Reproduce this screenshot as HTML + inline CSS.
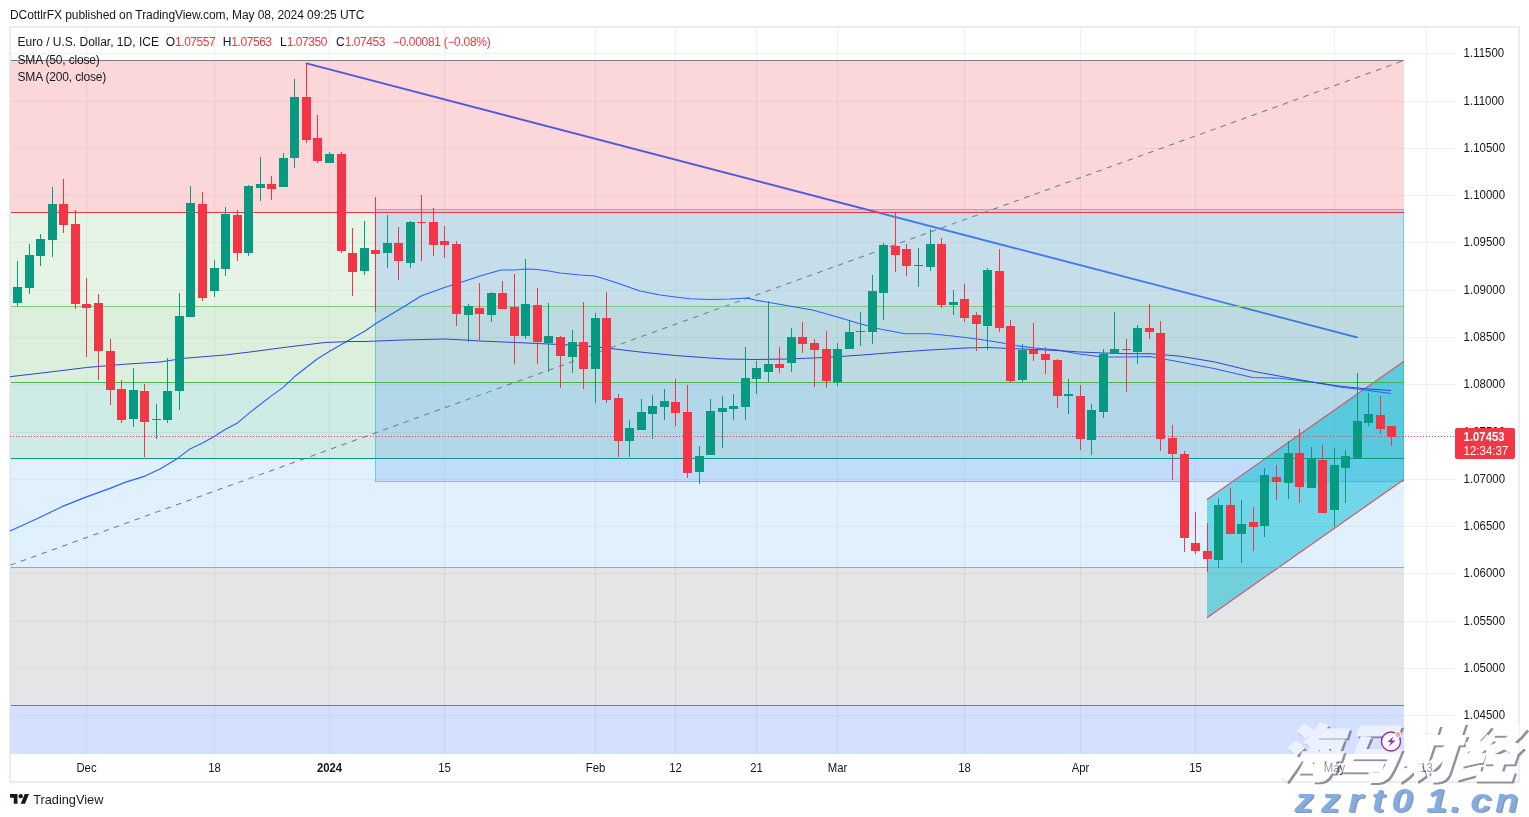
<!DOCTYPE html>
<html><head><meta charset="utf-8"><title>EURUSD chart</title>
<style>
html,body{margin:0;padding:0;background:#fff;}
body{width:1529px;height:817px;position:relative;overflow:hidden;font-family:"Liberation Sans","Noto Sans CJK SC",sans-serif;color:#131722;}
#frame{position:absolute;left:9px;top:26px;width:1507px;height:753px;border:2px solid #ebedf3;}
.t{position:absolute;white-space:nowrap;font-size:12px;line-height:14px;}
.red{color:#f23645;letter-spacing:-0.45px}
</style></head><body>
<div id="frame"></div>
<svg id="chart" width="1529" height="817" viewBox="0 0 1529 817" style="position:absolute;left:0;top:0">
<g stroke="#eff0f3" stroke-width="1" shape-rendering="crispEdges">
<line x1="10.5" x2="1455" y1="53.5" y2="53.5"/>
<line x1="10.5" x2="1455" y1="101.5" y2="101.5"/>
<line x1="10.5" x2="1455" y1="148.5" y2="148.5"/>
<line x1="10.5" x2="1455" y1="195.5" y2="195.5"/>
<line x1="10.5" x2="1455" y1="242.5" y2="242.5"/>
<line x1="10.5" x2="1455" y1="290.5" y2="290.5"/>
<line x1="10.5" x2="1455" y1="337.5" y2="337.5"/>
<line x1="10.5" x2="1455" y1="384.5" y2="384.5"/>
<line x1="10.5" x2="1455" y1="432.5" y2="432.5"/>
<line x1="10.5" x2="1455" y1="479.5" y2="479.5"/>
<line x1="10.5" x2="1455" y1="526.5" y2="526.5"/>
<line x1="10.5" x2="1455" y1="573.5" y2="573.5"/>
<line x1="10.5" x2="1455" y1="621.5" y2="621.5"/>
<line x1="10.5" x2="1455" y1="668.5" y2="668.5"/>
<line x1="10.5" x2="1455" y1="715.5" y2="715.5"/>
<line x1="86.5" x2="86.5" y1="28" y2="754"/>
<line x1="214.5" x2="214.5" y1="28" y2="754"/>
<line x1="329.5" x2="329.5" y1="28" y2="754"/>
<line x1="444.5" x2="444.5" y1="28" y2="754"/>
<line x1="595.5" x2="595.5" y1="28" y2="754"/>
<line x1="675.5" x2="675.5" y1="28" y2="754"/>
<line x1="756.5" x2="756.5" y1="28" y2="754"/>
<line x1="837.5" x2="837.5" y1="28" y2="754"/>
<line x1="964.5" x2="964.5" y1="28" y2="754"/>
<line x1="1080.5" x2="1080.5" y1="28" y2="754"/>
<line x1="1195.5" x2="1195.5" y1="28" y2="754"/>
<line x1="1334.5" x2="1334.5" y1="28" y2="754"/>
<line x1="1426.5" x2="1426.5" y1="28" y2="754"/>
</g>
<line x1="306.5" y1="63.4" x2="1357" y2="337.3" stroke="#2962ff" stroke-width="1.9" stroke-linecap="round"/>
<rect x="10.5" y="60.5" width="1393.5" height="152.0" fill="rgba(242,54,69,0.2)"/>
<rect x="10.5" y="212.5" width="1393.5" height="94.1" fill="rgba(129,199,132,0.2)"/>
<rect x="10.5" y="306.6" width="1393.5" height="75.9" fill="rgba(76,175,80,0.2)"/>
<rect x="10.5" y="382.5" width="1393.5" height="75.9" fill="rgba(8,153,129,0.2)"/>
<rect x="10.5" y="458.4" width="1393.5" height="109.1" fill="rgba(100,181,246,0.2)"/>
<rect x="10.5" y="567.5" width="1393.5" height="137.7" fill="rgba(120,123,134,0.2)"/>
<rect x="10.5" y="705.2" width="1393.5" height="48.8" fill="rgba(41,98,255,0.2)"/>
<line x1="10.5" y1="565" x2="1404" y2="60.5" stroke="#787b86" stroke-width="1.05" stroke-dasharray="5.5 5.5"/>
<rect x="375" y="209" width="1029" height="273" fill="rgba(80,145,245,0.22)"/>
<rect x="375.5" y="209.5" width="1028" height="272" fill="none" stroke="rgba(0,180,168,0.42)" stroke-width="1" shape-rendering="crispEdges"/>
<polygon points="1207,499.5 1404,361.2 1404,479.5 1207,617.7" fill="rgba(0,188,212,0.5)"/>
<line x1="1207" y1="499.5" x2="1404" y2="361.2" stroke="#d0596b" stroke-width="1.2"/>
<line x1="1207" y1="617.7" x2="1404" y2="479.5" stroke="#d0596b" stroke-width="1.2"/>
<line x1="10.5" x2="1404" y1="60.5" y2="60.5" stroke="#787b86" stroke-width="1" shape-rendering="crispEdges"/>
<line x1="10.5" x2="1404" y1="212.5" y2="212.5" stroke="#f23645" stroke-width="1" shape-rendering="crispEdges"/>
<line x1="10.5" x2="1404" y1="306.5" y2="306.5" stroke="#81c784" stroke-width="1" shape-rendering="crispEdges"/>
<line x1="10.5" x2="1404" y1="382.5" y2="382.5" stroke="#4caf50" stroke-width="1" shape-rendering="crispEdges"/>
<line x1="10.5" x2="1404" y1="458.5" y2="458.5" stroke="#089981" stroke-width="1" shape-rendering="crispEdges"/>
<line x1="10.5" x2="1404" y1="567.5" y2="567.5" stroke="#64b5f6" stroke-width="1" shape-rendering="crispEdges"/>
<line x1="10.5" x2="1404" y1="705.5" y2="705.5" stroke="#787b86" stroke-width="1" shape-rendering="crispEdges"/>
<line x1="10" x2="1455" y1="436.5" y2="436.5" stroke="#f23645" stroke-width="1" stroke-dasharray="1 2" shape-rendering="crispEdges"/>
<polyline points="10.0,531.0 37.5,518.6 62.5,506.4 86.5,496.9 110.0,488.4 125.0,482.4 145.0,476.1 160.0,468.9 177.5,458.4 190.0,448.9 202.5,442.9 215.0,435.9 225.0,429.4 237.5,422.9 250.0,412.4 270.0,396.9 283.8,386.9 295.0,376.2 317.5,358.7 330.0,351.0 347.5,341.0 365.0,331.0 375.5,323.7 390.0,315.0 405.0,306.0 421.0,296.0 444.5,287.5 465.0,281.0 480.0,276.0 501.0,270.0 515.0,270.0 525.5,269.0 537.5,269.5 549.0,271.0 560.0,273.0 580.0,275.0 595.0,276.0 606.5,279.5 620.0,284.0 640.0,291.0 660.0,295.0 675.5,297.0 690.0,298.7 710.0,299.5 730.0,299.0 747.0,298.0 755.0,300.0 775.0,303.5 812.5,310.0 837.5,317.0 860.0,323.7 880.0,329.0 905.0,333.7 930.0,333.7 952.5,336.0 977.5,339.0 1000.0,342.5 1015.0,345.5 1035.0,348.0 1057.5,350.0 1077.5,353.7 1102.5,357.0 1126.5,357.0 1150.0,356.5 1180.0,362.0 1215.0,368.7 1252.5,377.5 1280.0,378.2 1315.0,382.5 1340.0,387.0 1365.0,390.0 1391.0,393.5" fill="none" stroke="#2962ff" stroke-width="1.15" stroke-linejoin="round"/>
<polyline points="10.0,376.7 50.0,372.0 86.5,367.5 125.0,364.2 160.0,362.0 185.0,358.2 225.0,355.0 250.0,352.0 287.5,347.0 325.0,342.5 350.0,341.5 365.0,341.5 402.5,340.0 444.5,339.0 465.0,340.0 480.0,341.0 515.0,342.5 549.0,344.0 580.0,345.5 606.5,348.0 640.0,352.0 675.5,355.5 710.0,358.0 725.0,359.0 756.5,359.5 787.5,359.0 825.0,357.5 862.5,355.0 900.0,352.0 930.0,350.0 965.0,348.0 987.5,347.5 1010.0,348.5 1035.0,349.5 1057.5,350.5 1080.0,352.0 1103.5,353.0 1126.5,353.7 1150.0,353.7 1180.0,356.2 1215.0,362.0 1252.5,371.2 1280.0,376.2 1315.0,382.5 1340.0,386.2 1365.0,388.7 1391.0,390.5" fill="none" stroke="#3340d6" stroke-width="1" stroke-linejoin="round"/>
<g shape-rendering="crispEdges">
<rect x="17.0" y="261.0" width="1" height="45.0" fill="#089981"/>
<rect x="13.0" y="287.0" width="9" height="16.0" fill="#089981"/>
<rect x="29.0" y="244.0" width="1" height="50.0" fill="#089981"/>
<rect x="25.0" y="255.0" width="9" height="33.0" fill="#089981"/>
<rect x="40.0" y="234.0" width="1" height="32.0" fill="#089981"/>
<rect x="36.0" y="239.0" width="9" height="17.0" fill="#089981"/>
<rect x="52.0" y="187.0" width="1" height="70.0" fill="#089981"/>
<rect x="48.0" y="204.0" width="9" height="36.0" fill="#089981"/>
<rect x="63.0" y="179.0" width="1" height="54.0" fill="#f23645"/>
<rect x="59.0" y="204.0" width="9" height="21.0" fill="#f23645"/>
<rect x="75.0" y="210.0" width="1" height="99.0" fill="#f23645"/>
<rect x="71.0" y="224.0" width="9" height="80.0" fill="#f23645"/>
<rect x="86.0" y="278.0" width="1" height="79.0" fill="#f23645"/>
<rect x="82.0" y="304.0" width="9" height="4.0" fill="#f23645"/>
<rect x="98.0" y="294.0" width="1" height="86.0" fill="#f23645"/>
<rect x="94.0" y="303.0" width="9" height="48.0" fill="#f23645"/>
<rect x="110.0" y="339.0" width="1" height="66.0" fill="#f23645"/>
<rect x="106.0" y="351.0" width="9" height="39.0" fill="#f23645"/>
<rect x="121.0" y="380.0" width="1" height="43.0" fill="#f23645"/>
<rect x="117.0" y="389.0" width="9" height="30.5" fill="#f23645"/>
<rect x="133.0" y="368.0" width="1" height="59.0" fill="#089981"/>
<rect x="129.0" y="390.0" width="9" height="29.0" fill="#089981"/>
<rect x="144.0" y="384.0" width="1" height="73.0" fill="#f23645"/>
<rect x="140.0" y="391.0" width="9" height="31.0" fill="#f23645"/>
<rect x="156.0" y="404.0" width="1" height="35.0" fill="#089981"/>
<rect x="152.0" y="419.0" width="9" height="1.0" fill="#089981"/>
<rect x="167.0" y="358.0" width="1" height="65.0" fill="#089981"/>
<rect x="163.0" y="391.0" width="9" height="29.0" fill="#089981"/>
<rect x="179.0" y="293.0" width="1" height="117.0" fill="#089981"/>
<rect x="175.0" y="316.0" width="9" height="75.0" fill="#089981"/>
<rect x="190.0" y="186.0" width="1" height="131.0" fill="#089981"/>
<rect x="186.0" y="203.0" width="9" height="114.0" fill="#089981"/>
<rect x="202.0" y="192.0" width="1" height="109.0" fill="#f23645"/>
<rect x="198.0" y="204.0" width="9" height="94.0" fill="#f23645"/>
<rect x="214.0" y="260.0" width="1" height="37.0" fill="#089981"/>
<rect x="210.0" y="268.0" width="9" height="23.0" fill="#089981"/>
<rect x="225.0" y="207.0" width="1" height="69.0" fill="#089981"/>
<rect x="221.0" y="214.0" width="9" height="55.0" fill="#089981"/>
<rect x="237.0" y="210.0" width="1" height="51.0" fill="#f23645"/>
<rect x="233.0" y="215.0" width="9" height="38.0" fill="#f23645"/>
<rect x="248.0" y="185.0" width="1" height="71.0" fill="#089981"/>
<rect x="244.0" y="185.5" width="9" height="67.5" fill="#089981"/>
<rect x="260.0" y="157.0" width="1" height="44.0" fill="#089981"/>
<rect x="256.0" y="184.0" width="9" height="4.0" fill="#089981"/>
<rect x="271.0" y="176.0" width="1" height="24.0" fill="#f23645"/>
<rect x="267.0" y="184.0" width="9" height="5.0" fill="#f23645"/>
<rect x="283.0" y="153.0" width="1" height="34.0" fill="#089981"/>
<rect x="279.0" y="158.0" width="9" height="29.0" fill="#089981"/>
<rect x="294.0" y="79.0" width="1" height="89.0" fill="#089981"/>
<rect x="290.0" y="97.0" width="9" height="61.0" fill="#089981"/>
<rect x="306.0" y="63.0" width="1" height="80.0" fill="#f23645"/>
<rect x="302.0" y="97.0" width="9" height="43.0" fill="#f23645"/>
<rect x="317.0" y="115.0" width="1" height="48.0" fill="#f23645"/>
<rect x="313.0" y="138.0" width="9" height="23.0" fill="#f23645"/>
<rect x="329.0" y="152.0" width="1" height="11.0" fill="#089981"/>
<rect x="325.0" y="154.0" width="9" height="9.0" fill="#089981"/>
<rect x="341.0" y="152.0" width="1" height="101.0" fill="#f23645"/>
<rect x="337.0" y="154.0" width="9" height="97.0" fill="#f23645"/>
<rect x="352.0" y="228.0" width="1" height="68.0" fill="#f23645"/>
<rect x="348.0" y="253.0" width="9" height="19.0" fill="#f23645"/>
<rect x="364.0" y="221.0" width="1" height="54.0" fill="#089981"/>
<rect x="360.0" y="248.0" width="9" height="23.0" fill="#089981"/>
<rect x="375.0" y="197.0" width="1" height="115.0" fill="#f23645"/>
<rect x="371.0" y="249.5" width="9" height="4.5" fill="#f23645"/>
<rect x="387.0" y="215.0" width="1" height="53.0" fill="#089981"/>
<rect x="383.0" y="243.0" width="9" height="10.0" fill="#089981"/>
<rect x="398.0" y="227.0" width="1" height="53.0" fill="#f23645"/>
<rect x="394.0" y="243.0" width="9" height="18.0" fill="#f23645"/>
<rect x="410.0" y="221.0" width="1" height="47.0" fill="#089981"/>
<rect x="406.0" y="222.0" width="9" height="41.0" fill="#089981"/>
<rect x="421.0" y="195.0" width="1" height="66.0" fill="#f23645"/>
<rect x="417.0" y="222.0" width="9" height="1.0" fill="#f23645"/>
<rect x="433.0" y="208.0" width="1" height="48.0" fill="#f23645"/>
<rect x="429.0" y="222.0" width="9" height="23.0" fill="#f23645"/>
<rect x="444.0" y="226.0" width="1" height="32.0" fill="#f23645"/>
<rect x="440.0" y="241.0" width="9" height="4.0" fill="#f23645"/>
<rect x="456.0" y="241.0" width="1" height="85.0" fill="#f23645"/>
<rect x="452.0" y="244.0" width="9" height="70.0" fill="#f23645"/>
<rect x="468.0" y="304.0" width="1" height="38.0" fill="#089981"/>
<rect x="464.0" y="306.0" width="9" height="9.0" fill="#089981"/>
<rect x="479.0" y="283.0" width="1" height="57.0" fill="#f23645"/>
<rect x="475.0" y="308.0" width="9" height="6.0" fill="#f23645"/>
<rect x="491.0" y="292.0" width="1" height="30.0" fill="#089981"/>
<rect x="487.0" y="293.0" width="9" height="22.0" fill="#089981"/>
<rect x="502.0" y="281.0" width="1" height="28.0" fill="#f23645"/>
<rect x="498.0" y="293.0" width="9" height="16.0" fill="#f23645"/>
<rect x="514.0" y="274.0" width="1" height="90.0" fill="#f23645"/>
<rect x="510.0" y="307.0" width="9" height="29.0" fill="#f23645"/>
<rect x="525.0" y="259.0" width="1" height="80.0" fill="#089981"/>
<rect x="521.0" y="304.0" width="9" height="32.0" fill="#089981"/>
<rect x="537.0" y="288.0" width="1" height="76.0" fill="#f23645"/>
<rect x="533.0" y="305.0" width="9" height="37.0" fill="#f23645"/>
<rect x="548.0" y="303.0" width="1" height="69.0" fill="#089981"/>
<rect x="544.0" y="336.0" width="9" height="7.0" fill="#089981"/>
<rect x="560.0" y="336.0" width="1" height="52.0" fill="#f23645"/>
<rect x="556.0" y="337.0" width="9" height="19.0" fill="#f23645"/>
<rect x="572.0" y="330.0" width="1" height="43.0" fill="#089981"/>
<rect x="568.0" y="342.0" width="9" height="15.0" fill="#089981"/>
<rect x="583.0" y="302.0" width="1" height="87.0" fill="#f23645"/>
<rect x="579.0" y="342.0" width="9" height="27.0" fill="#f23645"/>
<rect x="595.0" y="313.0" width="1" height="90.0" fill="#089981"/>
<rect x="591.0" y="318.0" width="9" height="51.0" fill="#089981"/>
<rect x="606.0" y="292.0" width="1" height="111.0" fill="#f23645"/>
<rect x="602.0" y="318.0" width="9" height="82.0" fill="#f23645"/>
<rect x="618.0" y="394.0" width="1" height="63.0" fill="#f23645"/>
<rect x="614.0" y="398.0" width="9" height="43.0" fill="#f23645"/>
<rect x="629.0" y="420.0" width="1" height="37.0" fill="#089981"/>
<rect x="625.0" y="428.0" width="9" height="13.0" fill="#089981"/>
<rect x="641.0" y="399.0" width="1" height="31.0" fill="#089981"/>
<rect x="637.0" y="412.0" width="9" height="18.0" fill="#089981"/>
<rect x="652.0" y="395.0" width="1" height="44.0" fill="#089981"/>
<rect x="648.0" y="406.0" width="9" height="8.0" fill="#089981"/>
<rect x="664.0" y="389.0" width="1" height="31.0" fill="#089981"/>
<rect x="660.0" y="401.0" width="9" height="6.0" fill="#089981"/>
<rect x="675.0" y="379.0" width="1" height="47.0" fill="#f23645"/>
<rect x="671.0" y="402.0" width="9" height="11.0" fill="#f23645"/>
<rect x="687.0" y="385.0" width="1" height="93.0" fill="#f23645"/>
<rect x="683.0" y="412.0" width="9" height="61.0" fill="#f23645"/>
<rect x="699.0" y="446.0" width="1" height="38.0" fill="#089981"/>
<rect x="695.0" y="456.0" width="9" height="16.0" fill="#089981"/>
<rect x="710.0" y="399.0" width="1" height="56.0" fill="#089981"/>
<rect x="706.0" y="411.0" width="9" height="44.0" fill="#089981"/>
<rect x="722.0" y="396.0" width="1" height="52.0" fill="#089981"/>
<rect x="718.0" y="408.0" width="9" height="4.0" fill="#089981"/>
<rect x="733.0" y="394.0" width="1" height="26.0" fill="#089981"/>
<rect x="729.0" y="406.0" width="9" height="3.0" fill="#089981"/>
<rect x="745.0" y="347.0" width="1" height="73.0" fill="#089981"/>
<rect x="741.0" y="378.0" width="9" height="29.0" fill="#089981"/>
<rect x="756.0" y="361.0" width="1" height="33.0" fill="#089981"/>
<rect x="752.0" y="368.0" width="9" height="11.0" fill="#089981"/>
<rect x="768.0" y="301.0" width="1" height="81.0" fill="#089981"/>
<rect x="764.0" y="364.0" width="9" height="8.0" fill="#089981"/>
<rect x="779.0" y="347.0" width="1" height="26.0" fill="#f23645"/>
<rect x="775.0" y="364.0" width="9" height="4.0" fill="#f23645"/>
<rect x="791.0" y="328.0" width="1" height="44.0" fill="#089981"/>
<rect x="787.0" y="337.0" width="9" height="26.0" fill="#089981"/>
<rect x="802.0" y="322.0" width="1" height="31.0" fill="#f23645"/>
<rect x="798.0" y="337.0" width="9" height="7.0" fill="#f23645"/>
<rect x="814.0" y="339.0" width="1" height="48.0" fill="#f23645"/>
<rect x="810.0" y="343.0" width="9" height="7.0" fill="#f23645"/>
<rect x="826.0" y="331.0" width="1" height="57.0" fill="#f23645"/>
<rect x="822.0" y="349.0" width="9" height="32.0" fill="#f23645"/>
<rect x="837.0" y="343.0" width="1" height="43.0" fill="#089981"/>
<rect x="833.0" y="349.0" width="9" height="33.0" fill="#089981"/>
<rect x="849.0" y="321.0" width="1" height="28.0" fill="#089981"/>
<rect x="845.0" y="332.0" width="9" height="17.0" fill="#089981"/>
<rect x="860.0" y="312.0" width="1" height="34.0" fill="#089981"/>
<rect x="856.0" y="331.0" width="9" height="1.0" fill="#089981"/>
<rect x="872.0" y="275.0" width="1" height="69.0" fill="#089981"/>
<rect x="868.0" y="291.0" width="9" height="41.0" fill="#089981"/>
<rect x="883.0" y="243.0" width="1" height="77.0" fill="#089981"/>
<rect x="879.0" y="245.0" width="9" height="48.0" fill="#089981"/>
<rect x="895.0" y="212.0" width="1" height="60.0" fill="#f23645"/>
<rect x="891.0" y="246.0" width="9" height="9.0" fill="#f23645"/>
<rect x="906.0" y="244.0" width="1" height="32.0" fill="#f23645"/>
<rect x="902.0" y="249.0" width="9" height="17.0" fill="#f23645"/>
<rect x="918.0" y="248.0" width="1" height="39.0" fill="#089981"/>
<rect x="914.0" y="265.0" width="9" height="1.0" fill="#089981"/>
<rect x="930.0" y="229.0" width="1" height="42.0" fill="#089981"/>
<rect x="926.0" y="244.0" width="9" height="23.0" fill="#089981"/>
<rect x="941.0" y="238.0" width="1" height="70.0" fill="#f23645"/>
<rect x="937.0" y="244.0" width="9" height="61.0" fill="#f23645"/>
<rect x="953.0" y="290.0" width="1" height="25.0" fill="#089981"/>
<rect x="949.0" y="302.0" width="9" height="3.0" fill="#089981"/>
<rect x="964.0" y="284.0" width="1" height="38.0" fill="#f23645"/>
<rect x="960.0" y="299.0" width="9" height="19.0" fill="#f23645"/>
<rect x="976.0" y="312.0" width="1" height="39.0" fill="#f23645"/>
<rect x="972.0" y="315.0" width="9" height="9.0" fill="#f23645"/>
<rect x="987.0" y="268.0" width="1" height="82.0" fill="#089981"/>
<rect x="983.0" y="270.0" width="9" height="56.0" fill="#089981"/>
<rect x="999.0" y="249.0" width="1" height="83.0" fill="#f23645"/>
<rect x="995.0" y="271.0" width="9" height="57.0" fill="#f23645"/>
<rect x="1010.0" y="320.0" width="1" height="63.0" fill="#f23645"/>
<rect x="1006.0" y="326.0" width="9" height="55.0" fill="#f23645"/>
<rect x="1022.0" y="344.0" width="1" height="38.0" fill="#089981"/>
<rect x="1018.0" y="350.0" width="9" height="30.0" fill="#089981"/>
<rect x="1033.0" y="323.0" width="1" height="38.0" fill="#f23645"/>
<rect x="1029.0" y="350.0" width="9" height="4.0" fill="#f23645"/>
<rect x="1045.0" y="347.0" width="1" height="27.0" fill="#f23645"/>
<rect x="1041.0" y="354.0" width="9" height="6.0" fill="#f23645"/>
<rect x="1057.0" y="359.0" width="1" height="49.0" fill="#f23645"/>
<rect x="1053.0" y="360.0" width="9" height="36.0" fill="#f23645"/>
<rect x="1068.0" y="379.0" width="1" height="35.0" fill="#089981"/>
<rect x="1064.0" y="394.0" width="9" height="1.5" fill="#089981"/>
<rect x="1080.0" y="385.0" width="1" height="65.0" fill="#f23645"/>
<rect x="1076.0" y="396.0" width="9" height="43.0" fill="#f23645"/>
<rect x="1091.0" y="404.0" width="1" height="51.0" fill="#089981"/>
<rect x="1087.0" y="410.0" width="9" height="30.0" fill="#089981"/>
<rect x="1103.0" y="349.0" width="1" height="69.0" fill="#089981"/>
<rect x="1099.0" y="354.0" width="9" height="58.0" fill="#089981"/>
<rect x="1114.0" y="312.0" width="1" height="42.0" fill="#089981"/>
<rect x="1110.0" y="349.0" width="9" height="5.0" fill="#089981"/>
<rect x="1126.0" y="339.0" width="1" height="53.0" fill="#f23645"/>
<rect x="1122.0" y="349.0" width="9" height="1.0" fill="#f23645"/>
<rect x="1137.0" y="325.0" width="1" height="39.0" fill="#089981"/>
<rect x="1133.0" y="328.0" width="9" height="24.0" fill="#089981"/>
<rect x="1149.0" y="304.0" width="1" height="35.0" fill="#f23645"/>
<rect x="1145.0" y="328.0" width="9" height="4.0" fill="#f23645"/>
<rect x="1160.0" y="321.0" width="1" height="130.0" fill="#f23645"/>
<rect x="1156.0" y="333.0" width="9" height="106.0" fill="#f23645"/>
<rect x="1172.0" y="425.0" width="1" height="55.0" fill="#f23645"/>
<rect x="1168.0" y="438.0" width="9" height="16.0" fill="#f23645"/>
<rect x="1184.0" y="451.0" width="1" height="101.0" fill="#f23645"/>
<rect x="1180.0" y="454.0" width="9" height="84.0" fill="#f23645"/>
<rect x="1195.0" y="512.0" width="1" height="42.0" fill="#f23645"/>
<rect x="1191.0" y="543.0" width="9" height="8.0" fill="#f23645"/>
<rect x="1207.0" y="523.0" width="1" height="49.0" fill="#f23645"/>
<rect x="1203.0" y="551.0" width="9" height="8.0" fill="#f23645"/>
<rect x="1218.0" y="498.0" width="1" height="69.5" fill="#089981"/>
<rect x="1214.0" y="505.0" width="9" height="55.0" fill="#089981"/>
<rect x="1230.0" y="488.0" width="1" height="46.0" fill="#f23645"/>
<rect x="1226.0" y="505.0" width="9" height="29.0" fill="#f23645"/>
<rect x="1241.0" y="500.0" width="1" height="63.0" fill="#089981"/>
<rect x="1237.0" y="524.0" width="9" height="10.0" fill="#089981"/>
<rect x="1253.0" y="507.0" width="1" height="44.0" fill="#f23645"/>
<rect x="1249.0" y="522.0" width="9" height="5.0" fill="#f23645"/>
<rect x="1264.0" y="468.0" width="1" height="69.0" fill="#089981"/>
<rect x="1260.0" y="475.0" width="9" height="51.0" fill="#089981"/>
<rect x="1276.0" y="465.0" width="1" height="35.0" fill="#f23645"/>
<rect x="1272.0" y="477.0" width="9" height="5.0" fill="#f23645"/>
<rect x="1288.0" y="441.0" width="1" height="58.0" fill="#089981"/>
<rect x="1284.0" y="453.0" width="9" height="30.0" fill="#089981"/>
<rect x="1299.0" y="429.0" width="1" height="74.0" fill="#f23645"/>
<rect x="1295.0" y="453.0" width="9" height="34.0" fill="#f23645"/>
<rect x="1311.0" y="447.0" width="1" height="41.0" fill="#089981"/>
<rect x="1307.0" y="459.0" width="9" height="29.0" fill="#089981"/>
<rect x="1322.0" y="445.0" width="1" height="68.0" fill="#f23645"/>
<rect x="1318.0" y="460.0" width="9" height="53.0" fill="#f23645"/>
<rect x="1334.0" y="448.0" width="1" height="79.0" fill="#089981"/>
<rect x="1330.0" y="465.0" width="9" height="45.0" fill="#089981"/>
<rect x="1345.0" y="450.0" width="1" height="53.0" fill="#089981"/>
<rect x="1341.0" y="456.0" width="9" height="12.0" fill="#089981"/>
<rect x="1357.0" y="373.0" width="1" height="85.0" fill="#089981"/>
<rect x="1353.0" y="421.0" width="9" height="37.0" fill="#089981"/>
<rect x="1368.0" y="393.0" width="1" height="33.0" fill="#089981"/>
<rect x="1364.0" y="414.0" width="9" height="9.0" fill="#089981"/>
<rect x="1380.0" y="396.0" width="1" height="38.0" fill="#f23645"/>
<rect x="1376.0" y="415.0" width="9" height="14.0" fill="#f23645"/>
<rect x="1391.0" y="426.0" width="1" height="20.0" fill="#f23645"/>
<rect x="1387.0" y="426.0" width="9" height="11.0" fill="#f23645"/>
</g>
<g font-family="Liberation Sans, sans-serif" font-size="12.6" fill="#131722">
<text transform="translate(1463.6,57.3) scale(0.91,1)">1.11500</text>
<text transform="translate(1463.6,105.3) scale(0.91,1)">1.11000</text>
<text transform="translate(1463.6,152.3) scale(0.91,1)">1.10500</text>
<text transform="translate(1463.6,199.3) scale(0.91,1)">1.10000</text>
<text transform="translate(1463.6,246.3) scale(0.91,1)">1.09500</text>
<text transform="translate(1463.6,294.3) scale(0.91,1)">1.09000</text>
<text transform="translate(1463.6,341.3) scale(0.91,1)">1.08500</text>
<text transform="translate(1463.6,388.3) scale(0.91,1)">1.08000</text>
<text transform="translate(1463.6,436.3) scale(0.91,1)">1.07500</text>
<text transform="translate(1463.6,483.3) scale(0.91,1)">1.07000</text>
<text transform="translate(1463.6,530.3) scale(0.91,1)">1.06500</text>
<text transform="translate(1463.6,577.3) scale(0.91,1)">1.06000</text>
<text transform="translate(1463.6,625.3) scale(0.91,1)">1.05500</text>
<text transform="translate(1463.6,672.3) scale(0.91,1)">1.05000</text>
<text transform="translate(1463.6,719.3) scale(0.91,1)">1.04500</text>
</g>
<rect x="1455" y="428" width="60" height="31" rx="2" fill="#f23645"/>
<text transform="translate(1463.6,441) scale(0.9,1)" font-family="Liberation Sans, sans-serif" font-size="12.6" font-weight="bold" fill="#fff">1.07453</text>
<text transform="translate(1463.6,455.3) scale(0.91,1)" font-family="Liberation Sans, sans-serif" font-size="12.6" fill="#fff">12:34:37</text>
<g font-family="Liberation Sans, sans-serif" font-size="12.6" fill="#131722" text-anchor="middle">
<text transform="translate(86.5,772) scale(0.9,1)">Dec</text>
<text transform="translate(214.5,772) scale(0.9,1)">18</text>
<text transform="translate(329.5,772) scale(0.9,1)" font-weight="bold">2024</text>
<text transform="translate(444.5,772) scale(0.9,1)">15</text>
<text transform="translate(595.5,772) scale(0.9,1)">Feb</text>
<text transform="translate(675.5,772) scale(0.9,1)">12</text>
<text transform="translate(756.5,772) scale(0.9,1)">21</text>
<text transform="translate(837.5,772) scale(0.9,1)">Mar</text>
<text transform="translate(964.5,772) scale(0.9,1)">18</text>
<text transform="translate(1080.5,772) scale(0.9,1)">Apr</text>
<text transform="translate(1195.5,772) scale(0.9,1)">15</text>
<text transform="translate(1334.5,772) scale(0.9,1)">May</text>
<text transform="translate(1426.5,772) scale(0.9,1)">13</text>
</g>
</svg>
<div class="t" style="left:10px;top:8px;letter-spacing:-0.08px;">DCottlrFX published on TradingView.com, May 08, 2024 09:25 UTC</div>
<div class="t" style="left:17.5px;top:35.4px;">Euro / U.S. Dollar, 1D, ICE</div>
<div class="t" style="left:165.7px;top:35.4px;">O<span class="red">1.07557</span></div>
<div class="t" style="left:222.7px;top:35.4px;">H<span class="red">1.07563</span></div>
<div class="t" style="left:280px;top:35.4px;">L<span class="red">1.07350</span></div>
<div class="t" style="left:336px;top:35.4px;">C<span class="red">1.07453</span></div>
<div class="t" style="left:392.7px;top:35.4px;"><span class="red" style="letter-spacing:-0.3px">−0.00081 (−0.08%)</span></div>
<div class="t" style="left:17.5px;top:52.6px;letter-spacing:-0.17px;">SMA (50, close)</div>
<div class="t" style="left:17.5px;top:69.5px;letter-spacing:-0.17px;">SMA (200, close)</div>
<svg style="position:absolute;left:10px;top:794px" width="19.3" height="9.8" viewBox="0 4 36 18" preserveAspectRatio="none"><path d="M14 22H7V11H0V4h14v18zM28 22h-8l7.5-18h8L28 22z" fill="#131722"/><circle cx="20" cy="8" r="4" fill="#131722"/></svg>
<div class="t" style="left:33.2px;top:792.8px;font-size:12.75px;">TradingView</div>
<svg id="wm" width="1529" height="817" viewBox="0 0 1529 817" style="position:absolute;left:0;top:0;pointer-events:none">
<defs>
<mask id="wmmask" maskUnits="userSpaceOnUse" x="1200" y="690" width="340" height="130">
<rect x="1200" y="690" width="340" height="130" fill="#fff"/>
<g transform="translate(1278,775.5) skewX(-18) scale(0.962,1)"><text x="0" y="0" font-family="Liberation Sans, Noto Sans CJK SC, WenQuanYi Zen Hei, sans-serif" font-weight="900" font-size="61" letter-spacing="0.5" fill="#000" stroke="#000" stroke-width="2">海马财经</text></g>
</mask>
</defs>
<g mask="url(#wmmask)"><g transform="translate(1280,777.5) skewX(-18) scale(0.962,1)"><text x="0" y="0" font-family="Liberation Sans, Noto Sans CJK SC, WenQuanYi Zen Hei, sans-serif" font-weight="900" font-size="61" letter-spacing="0.5" fill="#6e6c80" stroke="#6e6c80" stroke-width="2" opacity="0.75">海马财经</text></g></g>
<g transform="translate(1278,775.5) skewX(-18) scale(0.962,1)" opacity="0.55"><text x="0" y="0" font-family="Liberation Sans, Noto Sans CJK SC, WenQuanYi Zen Hei, sans-serif" font-weight="900" font-size="61" letter-spacing="0.5" fill="#fff" stroke="#fff" stroke-width="2">海马财经</text></g>
<g font-family="Liberation Sans, sans-serif" font-weight="bold" font-style="italic" font-size="33">
<text transform="translate(1.5,1.5) scale(1.15,1)" x="1125.7 1148.8 1172.1 1192.9 1209.9 1240.2 1261.1 1278.5 1300.1" y="811.7" fill="rgba(90,110,150,0.7)">zzrt01.cn</text>
<text transform="scale(1.15,1)" x="1125.7 1148.8 1172.1 1192.9 1209.9 1240.2 1261.1 1278.5 1300.1" y="811.7" fill="#85acE2">zzrt01.cn</text>
</g>
<g><circle cx="1391" cy="741.5" r="9.5" fill="#fff" stroke="#9c27b0" stroke-width="1.4"/><path d="M1393.5 736.5 l-6 5.5 h3.5 l-2 4.5 l6.5 -6 h-3.8 z" fill="#9c27b0"/><circle cx="1398" cy="734.5" r="3" fill="#f7a1a7" stroke="#fff" stroke-width="1"/></g>
</svg>
</body></html>
